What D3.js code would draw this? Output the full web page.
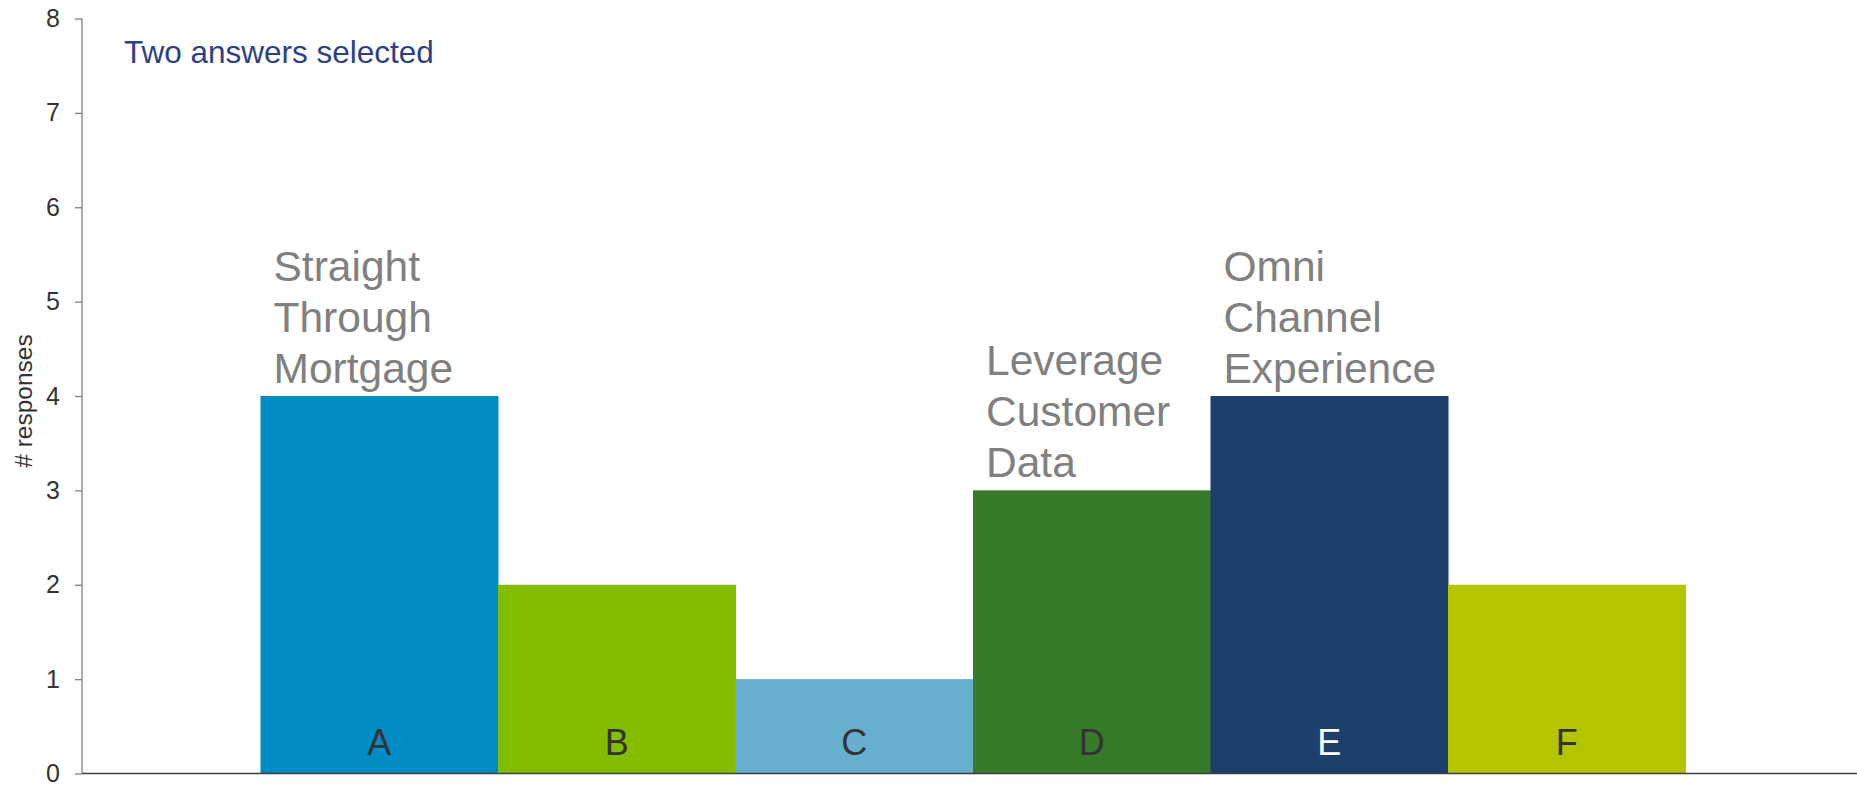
<!DOCTYPE html>
<html>
<head>
<meta charset="utf-8">
<script src="https://cdn.jsdelivr.net/npm/d3@7"></script>
<style>
  html, body { margin: 0; padding: 0; background: #fff; }
  svg { display: block; font-family: "Liberation Sans", Arial, sans-serif; }
</style>
</head>
<body>
<svg id="chart" width="1857" height="785"></svg>
<script>
// ---- data ----
const categories = ["A", "B", "C", "D", "E", "F"];
const responses = [4, 2, 1, 3, 4, 2];
const barColors = ["#008cc4", "#84bd00", "#66afcd", "#367a2a", "#1c3f6b", "#b5c400"];
const letterColors = ["#333333", "#333333", "#333333", "#333333", "#ffffff", "#333333"];
const barLabels = [["Straight", "Through", "Mortgage"], [], [], ["Leverage", "Customer", "Data"], ["Omni", "Channel", "Experience"], []];
const yTicks = [0, 1, 2, 3, 4, 5, 6, 7, 8];
const yTitle = "# responses";
const noteText = "Two answers selected";

// ---- layout ----
const svg = d3.select("#chart");
const axisX = 82;
const y = d3.scaleLinear().domain([0, 8]).range([773.5, 18.5]);
const x = d3.scaleBand().domain(categories).range([260.5, 1685.5]).padding(0);

// bars
svg.append("g").selectAll("rect")
  .data(categories)
  .join("rect")
  .attr("x", d => x(d))
  .attr("width", x.bandwidth() + 0.5)
  .attr("y", (d, i) => y(responses[i]))
  .attr("height", (d, i) => y(0) - y(responses[i]))
  .attr("fill", (d, i) => barColors[i]);

// category letters inside bars
svg.append("g").selectAll("text")
  .data(categories)
  .join("text")
  .attr("x", d => x(d) + x.bandwidth() / 2)
  .attr("y", 755)
  .attr("text-anchor", "middle")
  .attr("font-size", 36)
  .attr("fill", (d, i) => letterColors[i])
  .text(d => d);

// bar annotation labels
const lineH = 51;
categories.forEach((c, i) => {
  const lines = barLabels[i];
  if (!lines.length) return;
  const t = svg.append("text")
    .attr("font-size", 42.5)
    .attr("fill", "#808080");
  const n = lines.length;
  lines.forEach((ln, k) => {
    t.append("tspan")
      .attr("x", x(c) + 13)
      .attr("y", y(responses[i]) - 13 - (n - 1 - k) * lineH)
      .text(ln);
  });
});

// y axis
const yAxis = d3.axisLeft(y).tickValues(yTicks).tickSize(7).tickPadding(15).tickFormat(d3.format("d"));
const gy = svg.append("g").attr("transform", `translate(${axisX},0)`).call(yAxis);
gy.select(".domain").attr("stroke", "#808080").attr("stroke-width", 1.3).attr("d", `M0,${y(8)}V${y(0)}`);
gy.selectAll(".tick line").attr("stroke", "#808080").attr("stroke-width", 1.3);
gy.selectAll(".tick text").attr("font-size", 25).attr("fill", "#333333")
  .attr("font-family", "'Liberation Sans', Arial, sans-serif");

// x axis baseline
svg.append("line")
  .attr("x1", axisX).attr("x2", 1857)
  .attr("y1", y(0)).attr("y2", y(0))
  .attr("stroke", "#404040").attr("stroke-width", 1.6);

// y title
svg.append("text")
  .attr("transform", `translate(32,401) rotate(-90)`)
  .attr("text-anchor", "middle")
  .attr("font-size", 24.5)
  .attr("fill", "#333333")
  .text(yTitle);

// note
svg.append("text")
  .attr("x", 124).attr("y", 63)
  .attr("font-size", 31.5)
  .attr("fill", "#2e3f87")
  .text(noteText);
</script>
</body>
</html>
